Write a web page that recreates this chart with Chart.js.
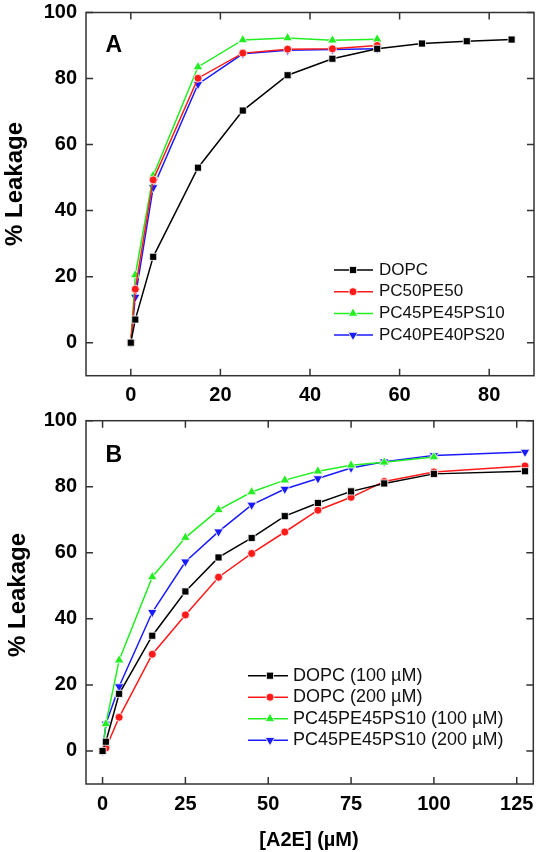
<!DOCTYPE html>
<html><head><meta charset="utf-8">
<script src="https://cdn.jsdelivr.net/npm/chart.js@4/dist/chart.umd.min.js"></script>
<style>
html,body{margin:0;padding:0;background:#fff;}
#wrap{position:relative;width:536px;height:852px;overflow:hidden;}
.c{position:absolute;left:0;width:536px;}
</style></head><body>
<div id="wrap">
<div class="c" style="top:0;height:405px"><canvas id="ca"></canvas></div>
<div class="c" style="top:405px;height:447px"><canvas id="cb"></canvas></div>
</div>
<script>
// ---- Panel A data ----
const xA = [0, 1, 5, 15, 25, 35, 45, 55, 65, 75, 85];
const dopcA = [0, 7, 26, 53, 70.3, 81, 86, 89, 90.6, 91.3, 91.8];
const xA2 = [0, 1, 5, 15, 25, 35, 45, 55];
const pc50A = [0, 16.2, 49.3, 80.1, 87.7, 88.9, 89, 90];
const pc45A = [0, 20.5, 50.6, 83.5, 91.7, 92.3, 91.6, 91.9];
const pc40A = [0, 13.8, 47, 78.3, 87.5, 88.6, 88.8, 89];
const labelsA = ['DOPC', 'PC50PE50', 'PC45PE45PS10', 'PC40PE40PS20'];

// ---- Panel B data ----
const xB = [0, 1, 5, 15, 25, 35, 45, 55, 65, 75, 85, 100, 127.5];
const dopc100B = [0, 2.8, 17.3, 34.9, 48.3, 58.6, 64.5, 71.1, 75.1, 78.6, 81, 83.9, 84.7];
const dopc200B = [0, 0.9, 10.2, 29.3, 41.2, 52.6, 59.8, 66.3, 72.9, 76.8, 81.6, 84.5, 86.3];
const xB2 = [0, 1, 5, 15, 25, 35, 45, 55, 65, 75, 85, 100];
const pc100B = [0, 8.2, 27.5, 52.7, 64.6, 73, 78.4, 82, 84.7, 86.5, 87.4, 89];
const pc200B = [0, 8.2, 19.5, 42, 57.3, 66.4, 74.5, 79.3, 82.5, 85.7, 87.6, 89.5, 90.5];
const labelsB = ['DOPC (100 \u00b5M)', 'DOPC (200 \u00b5M)', 'PC45PE45PS10 (100 \u00b5M)', 'PC45PE45PS10 (200 \u00b5M)'];

// ---- Ticks / titles ----
const yTicks = [0, 20, 40, 60, 80, 100];
const xTicksA = [0, 20, 40, 60, 80];
const xTicksB = [0, 25, 50, 75, 100, 125];
const yTitle = '% Leakage';
const xTitleB = '[A2E] (\u00b5M)';

const FONT = '"Liberation Sans", Arial, Helvetica, sans-serif';
const COLORS = ['#000000', '#ff1a1a', '#22ee22', '#1a1aff'];
const STYLES = [
  {pointStyle: 'rect', radius: 5, rotation: 0},
  {pointStyle: 'circle', radius: 4, rotation: 0},
  {pointStyle: 'triangle', radius: 5.5, rotation: 0},
  {pointStyle: 'triangle', radius: 5.5, rotation: 180}
];

function pts(xs, ys) { return xs.map((x, i) => ({x: x, y: ys[i]})); }

function makeDatasets(xsList, ysList, labels) {
  return ysList.map((ys, i) => ({
    label: labels[i],
    data: pts(xsList[i], ys),
    borderColor: COLORS[i],
    backgroundColor: COLORS[i],
    borderWidth: 1.5,
    pointStyle: STYLES[i].pointStyle,
    pointRadius: STYLES[i].radius,
    pointRotation: STYLES[i].rotation,
    pointBackgroundColor: COLORS[i],
    pointBorderColor: '#ffffff',
    pointBorderWidth: 0.8,
    tension: 0,
    fill: false
  }));
}

const framePlugin = {
  id: 'frame',
  afterDraw(chart, args, o) {
    const ctx = chart.ctx, a = chart.chartArea;
    const xs = chart.scales.x, ys = chart.scales.y;
    ctx.save();
    ctx.strokeStyle = '#333';
    ctx.lineWidth = 1.5;
    ctx.strokeRect(a.left, a.top, a.right - a.left, a.bottom - a.top);
    ctx.beginPath();
    xs.ticks.forEach(t => {
      const p = xs.getPixelForValue(t.value);
      ctx.moveTo(p, a.bottom); ctx.lineTo(p, a.bottom - 7);
      ctx.moveTo(p, a.top); ctx.lineTo(p, a.top + 7);
    });
    ys.ticks.forEach(t => {
      const p = ys.getPixelForValue(t.value);
      ctx.moveTo(a.left, p); ctx.lineTo(a.left + 7, p);
      ctx.moveTo(a.right, p); ctx.lineTo(a.right - 7, p);
    });
    ctx.stroke();
    // panel letter
    ctx.fillStyle = '#000';
    ctx.font = 'bold 23px ' + FONT;
    ctx.textAlign = 'left';
    ctx.textBaseline = 'alphabetic';
    ctx.fillText(o.letter, o.lx, o.ly);
    // y title
    ctx.save();
    ctx.font = 'bold 24px ' + FONT;
    ctx.translate(o.ytx, o.yty);
    ctx.rotate(-Math.PI / 2);
    ctx.textAlign = 'center';
    ctx.fillText(yTitle, 0, 0);
    ctx.restore();
    if (o.xt) {
      ctx.font = 'bold 20px ' + FONT;
      ctx.textAlign = 'center';
      ctx.fillText(o.xt, o.xtx, o.xty);
    }
    // legend
    ctx.font = o.lf + 'px ' + FONT;
    ctx.textBaseline = 'middle';
    ctx.textAlign = 'left';
    chart.data.datasets.forEach((d, i) => {
      const y = o.ly0 + i * o.lsp;
      ctx.strokeStyle = d.borderColor;
      ctx.lineWidth = 1.5;
      ctx.beginPath();
      ctx.moveTo(o.lx0, y); ctx.lineTo(o.lx1, y);
      ctx.stroke();
      ctx.fillStyle = d.pointBackgroundColor;
      ctx.strokeStyle = '#ffffff';
      ctx.lineWidth = 0.8;
      Chart.helpers.drawPoint(ctx, {pointStyle: d.pointStyle, radius: d.pointRadius, rotation: d.pointRotation, borderWidth: 0.8}, o.lm, y);
      ctx.fillStyle = '#111';
      ctx.fillText(d.label, o.ltx, y);
    });
    ctx.restore();
  }
};

function scaleOpts(min, max, ticks, fitProp, fitVal, isX) {
  return {
    type: 'linear',
    min: min, max: max,
    grid: {display: false, drawTicks: false},
    border: {display: false},
    afterBuildTicks: s => { s.ticks = ticks.map(v => ({value: v})); },
    afterFit: s => {
      s[fitProp] = fitVal;
      s.paddingTop = 0; s.paddingBottom = 0; s.paddingLeft = 0; s.paddingRight = 0;
    },
    ticks: {
      color: '#000',
      font: {family: FONT, size: 20, weight: 'bold'},
      padding: isX ? 8 : 9,
      maxRotation: 0,
      autoSkip: false,
      callback: v => String(v)
    }
  };
}

Chart.defaults.animation = false;

new Chart(document.getElementById('ca'), {
  type: 'line',
  data: {datasets: makeDatasets([xA, xA2, xA2, xA2], [dopcA, pc50A, pc45A, pc40A], labelsA)},
  options: {
    responsive: true, maintainAspectRatio: false, animation: false,
    layout: {autoPadding: false, padding: {left: 0, right: 2, top: 12.5, bottom: 0}},
    plugins: {legend: {display: false}, tooltip: {enabled: false},
      frame: {letter: 'A', lx: 105.5, ly: 51.5, ytx: 21.7, yty: 184,
        ly0: 270, lsp: 21.7, lx0: 334, lx1: 373, lm: 353, ltx: 379, lf: 17}},
    scales: {
      x: scaleOpts(-10, 90, xTicksA, 'height', 29.3, true),
      y: scaleOpts(-10, 100, yTicks, 'width', 86, false)
    }
  },
  plugins: [framePlugin]
});

new Chart(document.getElementById('cb'), {
  type: 'line',
  data: {datasets: makeDatasets([xB, xB, xB2, xB], [dopc100B, dopc200B, pc100B, pc200B], labelsB)},
  options: {
    responsive: true, maintainAspectRatio: false, animation: false,
    layout: {autoPadding: false, padding: {left: 0, right: 2.7, top: 15.7, bottom: 0}},
    plugins: {legend: {display: false}, tooltip: {enabled: false},
      frame: {letter: 'B', lx: 105.5, ly: 56.7, ytx: 25, yty: 190,
        xt: xTitleB, xtx: 309, xty: 440.7,
        ly0: 270.7, lsp: 21.5, lx0: 248, lx1: 288, lm: 270, ltx: 293, lf: 18}},
    scales: {
      x: scaleOpts(-5, 130, xTicksB, 'height', 68, true),
      y: scaleOpts(-10, 100, yTicks, 'width', 86, false)
    }
  },
  plugins: [framePlugin]
});
</script>
</body></html>
